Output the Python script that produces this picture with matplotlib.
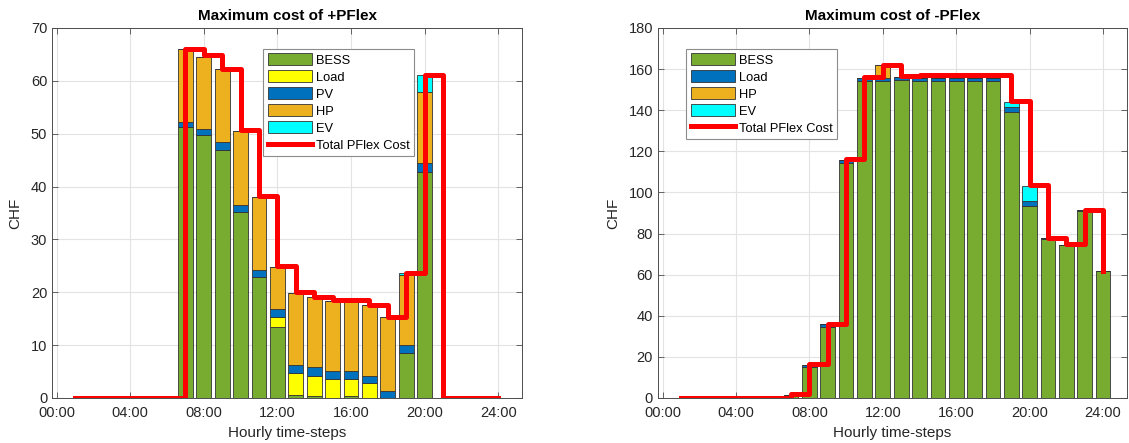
import matplotlib
matplotlib.use('Agg')
import matplotlib.pyplot as plt
import numpy as np
from matplotlib.patches import Patch
from matplotlib.lines import Line2D

plt.rcParams['font.family'] = ['Liberation Sans', 'DejaVu Sans']

hours = list(range(1, 25))
tick_hours = [0, 4, 8, 12, 16, 20, 24]
tick_labels = ["00:00", "04:00", "08:00", "12:00", "16:00", "20:00", "24:00"]

# ---- +PFlex (left) ----
pos_bess = [0, 0, 0, 0, 0, 0, 51.2, 49.7, 47.0, 35.2, 22.8, 13.5, 0.5, 0.3, 0.0, 0.3, 0.0, 0.0, 8.5, 42.8, 0, 0, 0, 0]
pos_load = [0, 0, 0, 0, 0, 0, 0, 0, 0, 0, 0, 1.9, 4.3, 3.9, 3.6, 3.3, 2.8, 0, 0, 0, 0, 0, 0, 0]
pos_pv = [0, 0, 0, 0, 0, 0, 1.0, 1.1, 1.5, 1.4, 1.5, 1.4, 1.4, 1.6, 1.6, 1.6, 1.4, 1.4, 1.5, 1.6, 0, 0, 0, 0]
pos_hp = [0, 0, 0, 0, 0, 0, 13.8, 13.8, 13.7, 13.9, 13.8, 8.0, 13.6, 13.3, 13.2, 13.1, 13.4, 13.9, 13.2, 13.4, 0, 0, 0, 0]
pos_ev = [0, 0, 0, 0, 0, 0, 0, 0, 0, 0, 0, 0, 0, 0, 0, 0, 0, 0, 0.4, 3.4, 0, 0, 0, 0]
pos_total = [0, 0, 0, 0, 0, 0, 66.0, 64.8, 62.3, 50.7, 38.2, 25.0, 20.1, 19.2, 18.5, 18.5, 17.6, 15.3, 23.7, 61.2, 0, 0, 0, 0]

# ---- -PFlex (right) ----
neg_bess = [0, 0, 0, 0, 0, 0, 1.2, 15.3, 34.5, 114.5, 154.3, 154.3, 154.7, 154.3, 154.3, 154.3, 154.3, 154.3, 139.3, 93.4, 77.5, 74.2, 91.2, 61.6]
neg_load = [0, 0, 0, 0, 0, 0, 0.3, 0.7, 1.3, 1.4, 1.6, 1.6, 1.6, 1.5, 1.5, 1.5, 1.5, 1.5, 2.1, 2.3, 0.2, 0.2, 0.2, 0.2]
neg_hp = [0, 0, 0, 0, 0, 0, 0, 0, 0, 0, 0, 6.1, 0, 0, 0, 0, 0, 0, 0, 0, 0, 0, 0, 0]
neg_ev = [0, 0, 0, 0, 0, 0, 0, 0, 0, 0, 0, 0, 0, 0, 0, 0, 0, 0, 2.7, 7.2, 0, 0, 0, 0]
neg_total = [0, 0, 0, 0, 0, 0, 1.8, 16.4, 36.0, 116.1, 156.3, 162.2, 156.6, 157.0, 157.0, 157.0, 157.0, 157.0, 144.5, 103.6, 77.7, 74.7, 91.4, 61.8]

C_BESS = '#77AC30'
C_LOAD_Y = '#FFFF00'
C_BLUE = '#0072BD'
C_HP = '#EDB120'
C_EV = '#00FFFF'
C_RED = '#FF0000'
TXT = '#262626'

fig = plt.figure(figsize=(11.29, 4.43), dpi=100)
axL = fig.add_axes([0.0461, 0.1016, 0.4163, 0.8352])
axR = fig.add_axes([0.5828, 0.1016, 0.4154, 0.8352])


def stacked(ax, series):
    bottom = np.zeros(len(hours))
    for vals, col in series:
        v = np.array(vals, dtype=float)
        ax.bar(hours, v, bottom=bottom, width=0.8, color=col,
               edgecolor='#333333', linewidth=0.6, zorder=2)
        bottom += v


def style(ax, ymax, ystep, title):
    ax.set_xlim(-0.25, 25.3)
    ax.set_ylim(0, ymax)
    ax.set_xticks(tick_hours)
    ax.set_xticklabels(tick_labels)
    ax.set_yticks(np.arange(0, ymax + 1, ystep))
    ax.grid(True, color='#e3e3e3', linewidth=0.8, zorder=0)
    ax.set_axisbelow(True)
    ax.tick_params(direction='in', length=4, width=0.6, colors='#4d4d4d',
                   labelcolor=TXT, labelsize=10.5, top=True, right=True)
    ax.tick_params(axis='x', pad=6)
    for s in ax.spines.values():
        s.set_color('#4d4d4d')
        s.set_linewidth(0.7)
    ax.set_title(title, fontsize=11, fontweight='bold', color='black', pad=6)
    ax.set_xlabel('Hourly time-steps', fontsize=11, color=TXT, labelpad=4)
    ax.set_ylabel('CHF', fontsize=11, color=TXT, labelpad=6)


# Left
stacked(axL, [(pos_bess, C_BESS), (pos_load, C_LOAD_Y), (pos_pv, C_BLUE),
              (pos_hp, C_HP), (pos_ev, C_EV)])
axL.step(hours, pos_total, where='post', color=C_RED, linewidth=3.6, zorder=3)
style(axL, 70, 10, 'Maximum cost of +PFlex')
handlesL = [Patch(facecolor=C_BESS, edgecolor='#333333', lw=0.6, label='BESS'),
            Patch(facecolor=C_LOAD_Y, edgecolor='#333333', lw=0.6, label='Load'),
            Patch(facecolor=C_BLUE, edgecolor='#333333', lw=0.6, label='PV'),
            Patch(facecolor=C_HP, edgecolor='#333333', lw=0.6, label='HP'),
            Patch(facecolor=C_EV, edgecolor='#333333', lw=0.6, label='EV'),
            Line2D([0], [0], color=C_RED, lw=3.6, label='Total PFlex Cost')]
legL = axL.legend(handles=handlesL, loc='upper left', bbox_to_anchor=(0.449, 0.944),
                  fontsize=9.3, handlelength=3.4, handleheight=1.05, labelspacing=0.28,
                  handletextpad=0.35, borderpad=0.35, borderaxespad=0,
                  frameon=True, fancybox=False, edgecolor='#8c8c8c', framealpha=1)
legL.get_frame().set_linewidth(0.8)

# Right
stacked(axR, [(neg_bess, C_BESS), (neg_load, C_BLUE), (neg_hp, C_HP), (neg_ev, C_EV)])
axR.step(hours, neg_total, where='post', color=C_RED, linewidth=3.6, zorder=3)
style(axR, 180, 20, 'Maximum cost of -PFlex')
handlesR = [Patch(facecolor=C_BESS, edgecolor='#333333', lw=0.6, label='BESS'),
            Patch(facecolor=C_BLUE, edgecolor='#333333', lw=0.6, label='Load'),
            Patch(facecolor=C_HP, edgecolor='#333333', lw=0.6, label='HP'),
            Patch(facecolor=C_EV, edgecolor='#333333', lw=0.6, label='EV'),
            Line2D([0], [0], color=C_RED, lw=3.6, label='Total PFlex Cost')]
legR = axR.legend(handles=handlesR, loc='upper left', bbox_to_anchor=(0.060, 0.944),
                  fontsize=9.3, handlelength=3.4, handleheight=1.05, labelspacing=0.28,
                  handletextpad=0.35, borderpad=0.35, borderaxespad=0,
                  frameon=True, fancybox=False, edgecolor='#8c8c8c', framealpha=1)
legR.get_frame().set_linewidth(0.8)

fig.savefig('out.png', dpi=100)
